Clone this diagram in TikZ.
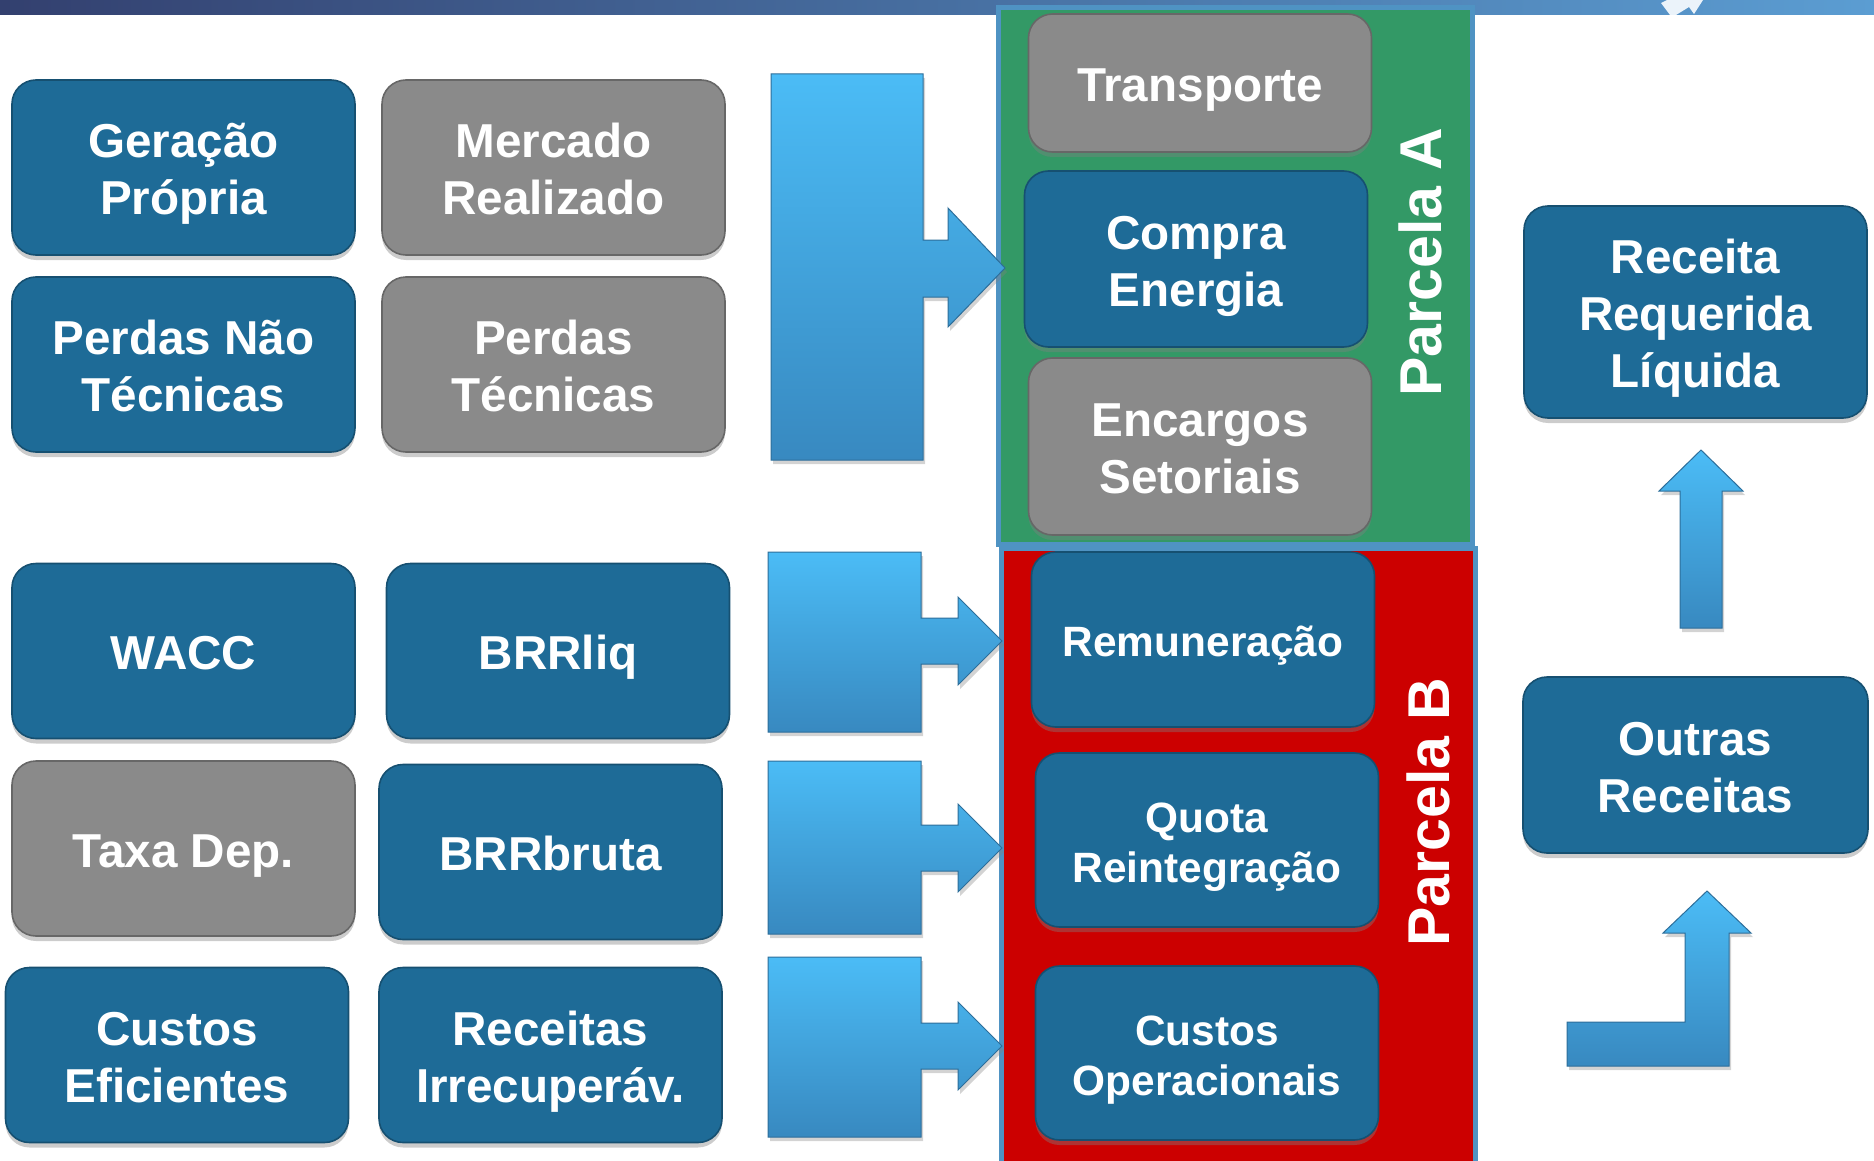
\documentclass[tikz,border=0pt]{standalone}
\usepackage{fontspec}
\setmainfont{Liberation Sans}
\usetikzlibrary{shadows}
\definecolor{boxblue}{HTML}{1E6B97}
\definecolor{boxgray}{HTML}{8A8A8A}
\definecolor{pgreen}{HTML}{339966}
\definecolor{pred}{HTML}{CC0000}
\definecolor{pedge}{HTML}{4F93C3}
\definecolor{arrtop}{HTML}{4BBCF6}
\definecolor{arrbot}{HTML}{3889C0}
\definecolor{barl}{HTML}{33406F}
\definecolor{barr}{HTML}{5B9DD2}
\newcommand{\linestrut}[1][0pt]{\rule[-0.212em]{0pt}{\dimexpr1.117em+2.4pt+#1\relax}}
\newcommand{\laststrut}{\rule[-0.212em]{0pt}{1.117em}}
\begin{document}
\begin{tikzpicture}[x=0.5pt, y=-0.5pt,
  box/.style = {draw=boxblue!75!black, line width=0.8pt, fill=boxblue, rounded corners=12pt,
    text=white, align=center, inner sep=0pt, minimum width=171.5pt, minimum height=87.5pt,
    font=\fontsize{23.8}{28.5}\selectfont\bfseries,
    execute at begin node=\linestrut, execute at end node=\laststrut,
    drop shadow={shadow xshift=0pt, shadow yshift=-2.5pt, opacity=.4}},
  two/.style = {execute at begin node={\linestrut[#1]}},
  two/.default = 28.5pt,
  gbox/.style = {box, fill=boxgray, draw=boxgray!75!black},
  sbox/.style = {box, font=\fontsize{21.2}{25}\selectfont\bfseries},
  blk/.style = {top color=arrtop, bottom color=arrbot, draw=arrbot!80!black, line width=0.5pt,
    drop shadow={shadow xshift=1pt, shadow yshift=-2pt, opacity=.35}},
  parcela/.style = {rotate=90, text=white, inner sep=0pt, font=\fontsize{29.5}{30}\selectfont\bfseries}]
\useasboundingbox (0,0) rectangle (1874,1161);
% top bar
\shade[left color=barl, right color=barr] (0,0) rectangle (1874,15);
\fill[white!88!barr] (1661,3) -- (1667,0) -- (1703,0) -- (1694,14) -- (1689,7) -- (1676,15) -- (1670,15) -- cycle;
% parcelas
\fill[pgreen] (998,8) rectangle (1472,544);
\draw[pedge, line width=2.5pt] (998,8) rectangle (1472,544);
\fill[pred] (1001,548) rectangle (1475,1161);
\draw[pedge, line width=2.5pt] (1001,1161) -- (1001,548) -- (1475,548) -- (1475,1161);
% inputs
\node[box, two] (gp) at (183.5,167.5) {Geração\\Própria};
\node[gbox, two] (mr) at (553.5,167.5) {Mercado\\Realizado};
\node[box, two] (pnt) at (183.5,364.5) {Perdas Não\\Técnicas};
\node[gbox, two] (pt) at (553.5,364.5) {Perdas\\Técnicas};
\node[box] (wacc) at (183.5,651) {WACC};
\node[box] (brrl) at (558,651) {BRRliq};
\node[gbox] (txd) at (183.5,848.5) {Taxa Dep.};
\node[box] (brrb) at (550.5,852) {BRRbruta};
\node[box, two] (ce) at (177,1055) {Custos\\Eficientes};
\node[box, two] (ri) at (550.5,1055) {Receitas\\Irrecuperáv.};
% parcela A
\node[gbox, minimum height=69pt] (tr) at (1200,83) {Transporte};
\node[box, two, minimum height=88pt] (ce2) at (1196,259) {Compra\\Energia};
\node[gbox, two, minimum height=88.5pt] (es) at (1200,446.5) {Encargos\\Setoriais};
\node[parcela] (pa) at (1420,262) {Parcela A};
% parcela B
\node[sbox] (rem) at (1203,639.5) {Remuneração};
\node[sbox, two=25pt, minimum height=87pt] (qr) at (1207,840) {Quota\\Reintegração};
\node[sbox, two=25pt, minimum height=87pt] (co) at (1207,1053) {Custos\\Operacionais};
\node[parcela] (pb) at (1428,812) {Parcela B};
% receitas
\node[box, two=57pt, minimum height=106pt] (rrl) at (1695.5,312) {Receita\\Requerida\\Líquida};
\node[box, two, minimum width=172.5pt, minimum height=88pt] (or) at (1695.5,765) {Outras\\Receitas};
% block arrows
\path[blk] (771,74) -- (923,74) -- (923,240) -- (948,240) -- (948,208) -- (1005,268)
  -- (948,327) -- (948,297) -- (923,297) -- (923,460) -- (771,460) -- cycle;
\foreach \t/\b/\m in {552/732/641, 761/934/848, 957/1137/1046}
  \path[blk] (768,\t) -- (921,\t) -- (921,{\m-23}) -- (958,{\m-23}) -- (958,{\m-44})
    -- (1002,\m) -- (958,{\m+44}) -- (958,{\m+23}) -- (921,{\m+23}) -- (921,\b) -- (768,\b) -- cycle;
\path[blk] (1680,628) -- (1680,491) -- (1659,491) -- (1701,450) -- (1743,491) -- (1722,491) -- (1722,628) -- cycle;
\path[blk] (1567,1022) -- (1685,1022) -- (1685,933) -- (1663,933) -- (1707,891) -- (1751,933)
  -- (1729,933) -- (1729,1066) -- (1567,1066) -- cycle;
\end{tikzpicture}
\end{document}
